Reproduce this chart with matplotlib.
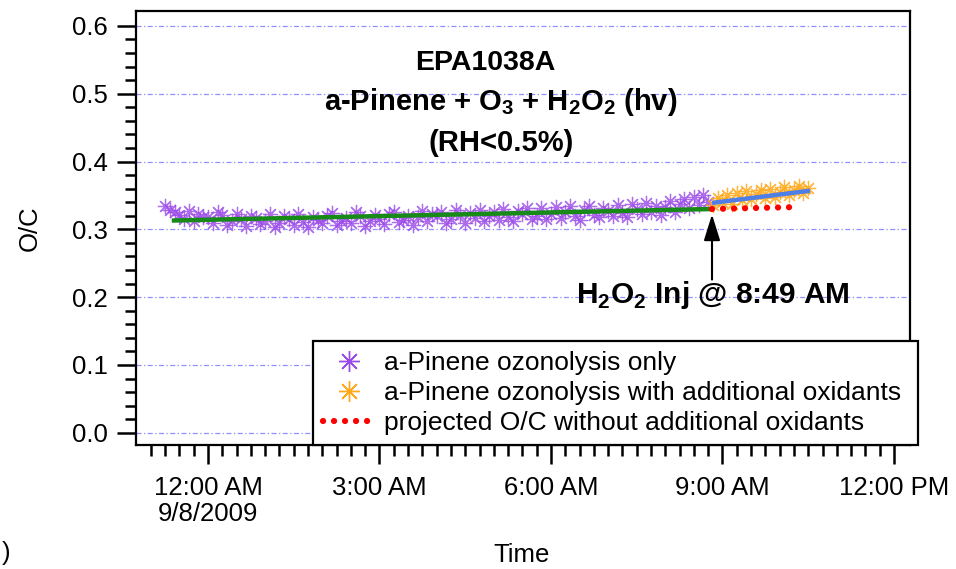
import numpy as np
import matplotlib
matplotlib.use("Agg")
import matplotlib.pyplot as plt
from matplotlib.ticker import FixedLocator
from matplotlib.lines import Line2D

plt.rcParams['font.family'] = ['Liberation Sans', 'DejaVu Sans']
plt.rcParams['mathtext.fontset'] = 'custom'
plt.rcParams['mathtext.rm'] = 'Liberation Sans'
plt.rcParams['mathtext.bf'] = 'Liberation Sans:bold'

# ---------------- data (time in minutes after 12:00 AM 9/8/2009) ----------------
purple_start_min = -45
purple_step_min = 5
purple_oc = [
    0.334, 0.329, 0.326, 0.321, 0.316, 0.327, 0.313, 0.322, 0.318,
    0.318, 0.309, 0.325, 0.321, 0.306, 0.312, 0.323, 0.315, 0.305, 0.320, 0.317, 0.308,
    0.313, 0.322, 0.304, 0.310, 0.319, 0.316, 0.307, 0.323, 0.311, 0.303, 0.318, 0.314,
    0.309, 0.320, 0.324, 0.306, 0.313, 0.317, 0.310, 0.325, 0.319, 0.305, 0.312, 0.321,
    0.316, 0.308, 0.323, 0.326, 0.311, 0.314, 0.320, 0.306, 0.318, 0.327, 0.312, 0.322,
    0.319, 0.326, 0.310, 0.315, 0.328, 0.321, 0.309, 0.324, 0.317, 0.329, 0.313, 0.320,
    0.325, 0.314, 0.330, 0.318, 0.312, 0.327, 0.322, 0.331, 0.316, 0.320, 0.332, 0.315,
    0.323, 0.333, 0.317, 0.326, 0.334, 0.319, 0.314, 0.329, 0.335, 0.321, 0.318, 0.331,
    0.327, 0.320, 0.336, 0.324, 0.318, 0.338, 0.330, 0.322, 0.339, 0.326, 0.335, 0.321,
    0.333, 0.342, 0.326, 0.337, 0.345, 0.331, 0.348, 0.336, 0.350, 0.340,
]
orange_start_min = 530
orange_step_min = 5
orange_oc = [
    0.336, 0.346, 0.341, 0.350, 0.338, 0.354, 0.343, 0.356, 0.345, 0.352, 0.358,
    0.346, 0.360, 0.348, 0.355, 0.362, 0.350, 0.358, 0.364, 0.353, 0.361,
]
green_fit_min = [-38, 529]
green_fit_oc = [0.313, 0.330]
blue_fit_min = [529, 632]
blue_fit_oc = [0.339, 0.357]
red_proj_min = [529, 621]
red_proj_oc = [0.330, 0.333]

xtick_hours = [0, 3, 6, 9, 12]
xtick_labels = ["12:00 AM\n9/8/2009", "3:00 AM", "6:00 AM", "9:00 AM", "12:00 PM"]
ytick_vals = [0.0, 0.1, 0.2, 0.3, 0.4, 0.5, 0.6]
ytick_labels = ["0.0", "0.1", "0.2", "0.3", "0.4", "0.5", "0.6"]
legend_labels = ["a-Pinene ozonolysis only",
                 "a-Pinene ozonolysis with additional oxidants",
                 "projected O/C without additional oxidants"]
injection_hour = 529 / 60.0

# ---------------- figure ----------------
W, H = 956, 569
fig = plt.figure(figsize=(W / 100, H / 100), dpi=100)
L, R, T, B = 136, 910, 11, 445
ax = fig.add_axes([L / W, 1 - B / H, (R - L) / W, (B - T) / H])

purple_h = (purple_start_min + purple_step_min * np.arange(len(purple_oc))) / 60.0
orange_h = (orange_start_min + orange_step_min * np.arange(len(orange_oc))) / 60.0

asterisk = (8, 2, 0)
purple = '#9a4ae8'
orange = '#ffa81a'
ax.plot(purple_h, purple_oc, linestyle='none', marker=asterisk, markersize=11,
        markeredgewidth=0.9, color=purple, alpha=0.8, zorder=3)
ax.plot(orange_h, orange_oc, linestyle='none', marker=asterisk, markersize=11,
        markeredgewidth=0.9, color=orange, alpha=0.85, zorder=3)
ax.plot(np.array(green_fit_min) / 60.0, green_fit_oc, color='#178a17', lw=3.2,
        solid_capstyle='butt', zorder=4)
ax.plot(np.array(blue_fit_min) / 60.0, blue_fit_oc, color='#4f7fe6', lw=3.2,
        solid_capstyle='butt', zorder=4)
ax.plot(np.array(red_proj_min) / 60.0, red_proj_oc, color='#ff0000', lw=4.5,
        linestyle=(0, (0.01, 1.75)), dash_capstyle='round', zorder=5)

ax.set_xlim(-1.259, 12.28)
ax.set_ylim(-0.018, 0.622)

ax.xaxis.set_major_locator(FixedLocator(xtick_hours))
ax.set_xticklabels(xtick_labels, fontsize=18.5, linespacing=1.1)
ax.xaxis.set_minor_locator(FixedLocator([h / 4.0 for h in range(-4, 49) if h % 12 != 0]))
ax.yaxis.set_major_locator(FixedLocator(ytick_vals))
ax.set_yticklabels(ytick_labels, fontsize=18.5)
ax.yaxis.set_minor_locator(FixedLocator([v / 100.0 for v in range(0, 61, 2) if v % 10 != 0]))

ax.tick_params(axis='both', which='major', direction='out', length=13.5, width=1.8, color='black')
ax.tick_params(axis='both', which='minor', direction='out', length=8, width=1.8, color='black')
ax.tick_params(axis='x', which='major', pad=9)
ax.tick_params(axis='y', which='major', pad=7)
for s in ax.spines.values():
    s.set_linewidth(1.6)
    s.set_color('black')

for v in ytick_vals:
    ax.axhline(v, color='#8f8fff', lw=0.9, linestyle=(0, (4, 2, 1, 2)), zorder=1)

# titles
fig.text(485 / W, 1 - 70 / H, "EPA1038A", fontsize=20.5, fontweight='bold',
         ha='center', va='baseline')
t1 = r"a-Pinene + O$_\mathbf{3}$ + H$_\mathbf{2}$O$_\mathbf{2}$ (hv)"
fig.text(501 / W, 1 - 110 / H, t1, fontsize=21, fontweight='bold', ha='center', va='baseline')
fig.text(501 / W, 1 - 151 / H, "(RH<0.5%)", fontsize=21, fontweight='bold', ha='center', va='baseline')

# injection annotation
ax.annotate("", xy=(injection_hour, 0.322), xytext=(injection_hour, 0.226),
            arrowprops=dict(arrowstyle='-|>,head_length=0.8,head_width=0.25', lw=1.5,
                            color='black', mutation_scale=20, shrinkA=0, shrinkB=0), zorder=6)
fig.text(713 / W, 1 - 303 / H, r"H$_\mathbf{2}$O$_\mathbf{2}$ Inj @ 8:49 AM", fontsize=21.5,
         fontweight='bold', ha='center', va='baseline')

# axis labels
fig.text(30 / W, 1 - 228 / H, "O/C", rotation=90, fontsize=18.5, ha='center', va='center')
fig.text(522 / W, 1 - 555 / H, "Time", fontsize=18.5, ha='center', va='center')
fig.text(2 / W, 1 - 553 / H, ")", fontsize=18.5, ha='left', va='center')

# legend
h1 = Line2D([], [], linestyle='none', marker=asterisk, markersize=15, markeredgewidth=1.0, color=purple)
h2 = Line2D([], [], linestyle='none', marker=asterisk, markersize=15, markeredgewidth=1.0, color=orange)
h3 = Line2D([], [], color='#ff0000', lw=4.5, linestyle=(0, (0.01, 1.75)), dash_capstyle='round')
leg = ax.legend([h1, h2, h3], legend_labels, loc='lower left',
                bbox_to_anchor=((313 - L) / (R - L), 0.0, (918 - 313) / (R - L), 0.3),
                mode='expand', borderaxespad=0,
                fontsize=19, frameon=True, fancybox=False, framealpha=1,
                edgecolor='black', handlelength=2.0, handletextpad=0.3,
                labelspacing=0.22, borderpad=0.38)
leg.get_frame().set_linewidth(1.6)
leg.set_zorder(10)

fig.savefig("out.png", dpi=100)
